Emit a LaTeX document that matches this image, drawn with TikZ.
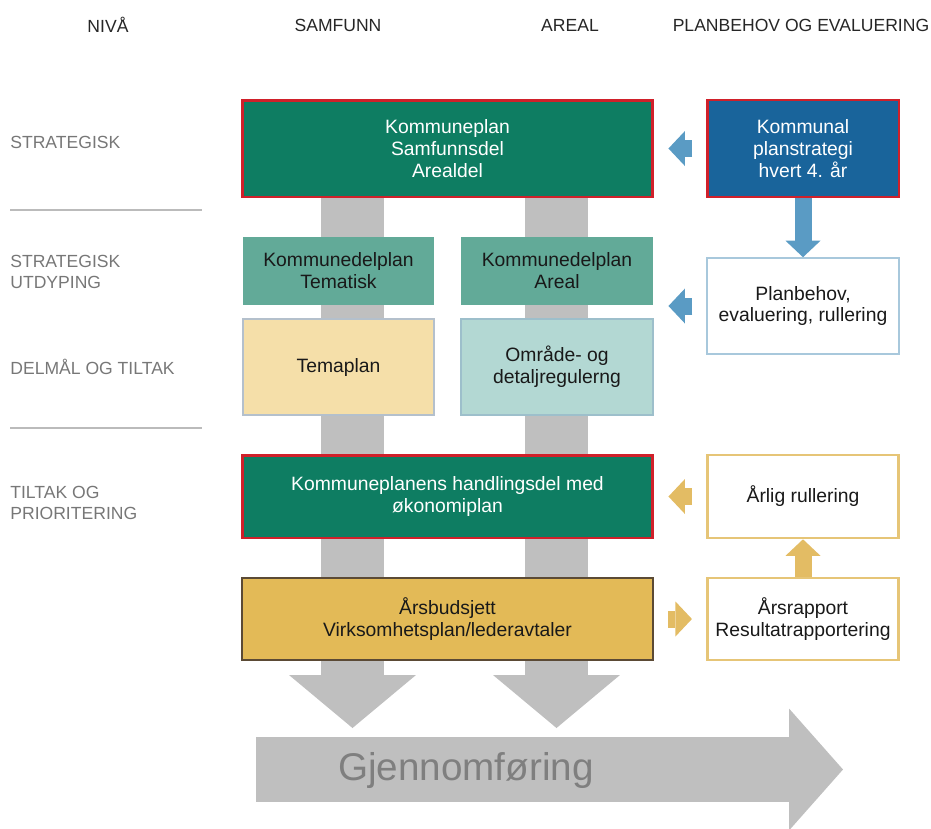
\documentclass[tikz,border=0pt]{standalone}
\usepackage{fontspec}
\setmainfont{Liberation Sans}
\usepackage{xcolor}
\usepackage{tikz}
\usetikzlibrary{positioning,calc,arrows.meta}

\definecolor{kgreen}{HTML}{0E7D62}
\definecolor{kteal}{HTML}{62AA98}
\definecolor{kred}{HTML}{D0202A}
\definecolor{kblue}{HTML}{19649B}
\definecolor{arrowblue}{HTML}{5A9BC4}
\definecolor{pbborder}{HTML}{A8C8DC}
\definecolor{temafill}{HTML}{F5DFA9}
\definecolor{temaborder}{HTML}{B4C0CC}
\definecolor{omrfill}{HTML}{B3D8D3}
\definecolor{omrborder}{HTML}{9DBFCB}
\definecolor{kgold}{HTML}{E3BA57}
\definecolor{goldborder}{HTML}{E6C577}
\definecolor{goldarrow}{HTML}{E3BC64}
\definecolor{abborder}{HTML}{5B4A35}
\definecolor{flowgray}{HTML}{BFBFBF}
\definecolor{gjgray}{HTML}{7F7F7F}
\definecolor{labelgray}{HTML}{777777}
\definecolor{rulegray}{HTML}{BBBBBB}

\begin{document}
\begin{tikzpicture}[x=0.02cm, y=-0.02cm,
        boxtext/.style={font=\fontsize{11}{12.5}\selectfont, align=center, inner sep=0pt, text=black!90},
        widebox/.style={boxtext, minimum width=8.22cm},
        colbox/.style={boxtext, minimum width=3.83cm},
        mainplan/.style={draw=kred, line width=1.7pt, fill=kgreen, text=white},
        header/.style={font=\fontsize{10}{12}\selectfont, text=black!85},
        level/.style={font=\fontsize{10}{11.9}\selectfont, text=labelgray, anchor=west, align=left, inner sep=0pt},
        flowarrow/.style={draw=flowgray, line width=1.26cm, -{Triangle[width=2.54cm, length=1.06cm, line width=0pt]}},
        bigarrow/.style={draw=flowgray, line width=1.3cm, -{Triangle[width=2.44cm, length=1.08cm, line width=0pt]}},
        bluearrow/.style={draw=arrowblue, line width=0.34cm, -{Triangle[width=0.7cm, length=0.33cm, line width=0pt]}},
        goldarrow/.style={draw=goldarrow, line width=0.34cm, -{Triangle[width=0.7cm, length=0.33cm, line width=0pt]}},
        gap/.style={shorten <=0.28cm, shorten >=0.28cm}]
        \useasboundingbox (0,0) rectangle (931,829);

        % Column headings
        \node[header] (hniva) at (108,25) {NIVÅ};
        \node[header] (hsam) at (338,25) {SAMFUNN};
        \node[header] (hareal) at (570,25) {AREAL};
        \node[header] (hplan) at (801,25) {PLANBEHOV OG EVALUERING};

        % Levels
        \node[level] (lstrat) at (10,142) {STRATEGISK};
        \node[level] (lutd) at (10,272) {STRATEGISK\\UTDYPING};
        \node[level] (ldel) at (10,367) {DELMÅL OG TILTAK};
        \node[level] (lprio) at (10,503) {TILTAK OG\\PRIORITERING};
        \draw[rulegray, line width=0.8pt] (10,210) -- (202,210);
        \draw[rulegray, line width=0.8pt] (10,428) -- (202,428);

        % Grey flow behind the plans
        \coordinate (samtop) at (352.5,197);
        \coordinate (samend) at (352.5,728);
        \coordinate (artop) at (556.5,197);
        \coordinate (arend) at (556.5,728);
        \draw[flowarrow] (samtop) -- (samend);
        \draw[flowarrow] (artop) -- (arend);
        \coordinate (gjstart) at (256,769.5);
        \coordinate (gjend) at (843,769.5);
        \draw[bigarrow] (gjstart) -- (gjend);
        \node[font=\fontsize{22}{26}\selectfont, text=gjgray] (gj) at (466,770) {Gjennomføring};

        % Plans
        \node[widebox, mainplan, minimum height=1.94cm] (kp) at (447.5,148.5) {Kommuneplan\\Samfunnsdel\\Arealdel};
        \node[colbox, draw=kred, line width=1.4pt, fill=kblue, text=white, minimum height=1.94cm] (strat) at (803,148.5) {Kommunal\\planstrategi\\hvert 4. år};
        \node[colbox, fill=kteal, minimum height=1.36cm] (kdt) at (338.5,271) {Kommunedelplan\\Tematisk};
        \node[colbox, fill=kteal, minimum height=1.36cm] (kda) at (557,271) {Kommunedelplan\\Areal};
        \node[colbox, draw=pbborder, line width=0.9pt, fill=white, minimum height=1.92cm] (pb) at (803,306) {Planbehov,\\evaluering, rullering};
        \node[colbox, draw=temaborder, line width=0.9pt, fill=temafill, minimum height=1.92cm] (tema) at (338.5,367) {Temaplan};
        \node[colbox, draw=omrborder, line width=0.9pt, fill=omrfill, minimum height=1.92cm] (omr) at (557,367) {Område- og\\detaljregulerng};
        \node[widebox, mainplan, minimum height=1.66cm] (hd) at (447.5,496.5) {Kommuneplanens handlingsdel med\\økonomiplan};
        \node[colbox, draw=goldborder, line width=1.5pt, fill=white, minimum height=1.66cm] (arl) at (803,496.5) {Årlig rullering};
        \node[widebox, draw=abborder, line width=0.9pt, fill=kgold, minimum height=1.64cm] (ab) at (447.5,619) {Årsbudsjett\\Virksomhetsplan/lederavtaler};
        \node[colbox, draw=goldborder, line width=1.5pt, fill=white, minimum height=1.64cm] (arr) at (803,619) {Årsrapport\\Resultatrapportering};

        % Planning arrows
        \draw[bluearrow, gap] (strat.west) -- (kp.east |- strat.west);
        \draw[bluearrow] (strat.south) -- (pb.north);
        \draw[bluearrow, gap] (pb.west) -- (kp.east |- pb.west);
        \draw[goldarrow, gap] (arl.west) -- (hd.east);
        \draw[goldarrow, gap] (ab.east) -- (arr.west);
        \draw[goldarrow] (arr.north) -- (arl.south);
\end{tikzpicture}
\end{document}
